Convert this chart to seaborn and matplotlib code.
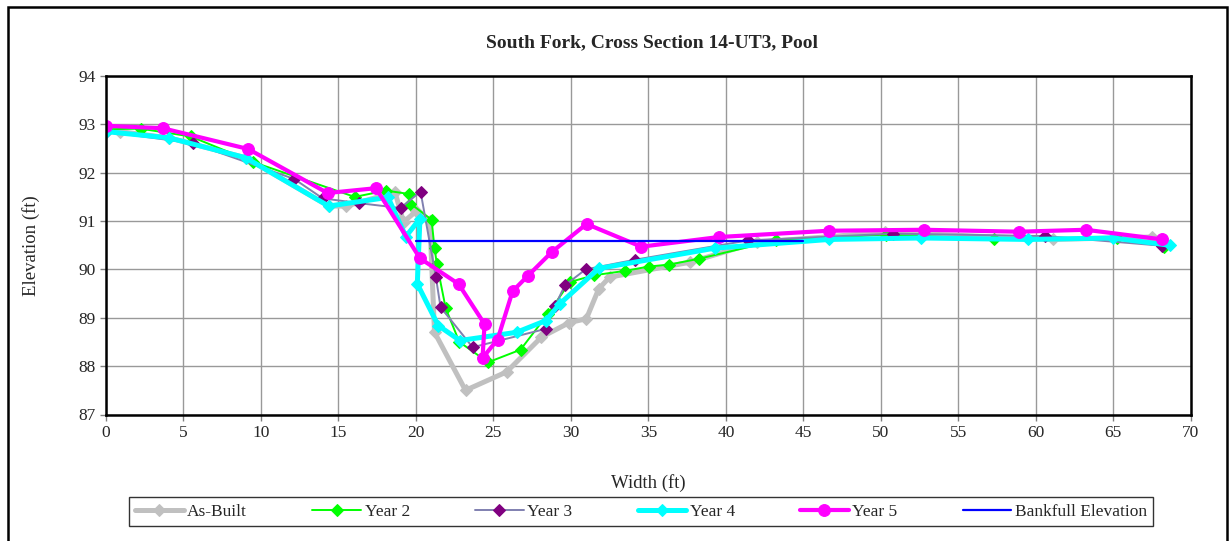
import matplotlib
matplotlib.use('Agg')
import matplotlib.pyplot as plt
from matplotlib.patches import Rectangle
import seaborn as sns

sns.set_style('white')
plt.rcParams['font.family'] = ['Liberation Serif', 'DejaVu Serif']

# data
asbuilt_x = [0.9, 4.08, 9.01, 14.37, 15.5, 18.65, 19.2, 20.0, 20.9, 21.2, 23.2, 25.85, 28.1,
             29.9, 31.0, 31.8, 32.5, 37.7, 42.0, 50.3, 61.1, 67.5]
asbuilt_y = [92.85, 92.72, 92.31, 91.31, 91.31, 91.6, 90.98, 91.2, 91.0, 88.7, 87.5, 87.88,
             88.6, 88.9, 88.98, 89.6, 89.84, 90.15, 90.56, 90.77, 90.62, 90.67]

year2_x = [0, 2.24, 5.46, 9.5, 16.05, 18.06, 19.57, 19.65, 21.01, 21.2, 21.35, 21.92, 22.8,
           24.66, 26.75, 28.5, 29.94, 31.5, 33.5, 35.03, 36.34, 38.26, 43.27, 50.32, 57.29,
           65.27, 68.3]
year2_y = [92.9, 92.91, 92.75, 92.22, 91.5, 91.63, 91.56, 91.36, 91.03, 90.44, 90.12, 89.2,
           88.5, 88.08, 88.34, 89.07, 89.74, 89.88, 89.97, 90.06, 90.1, 90.22, 90.6, 90.72,
           90.63, 90.65, 90.47]

year3_x = [0, 5.59, 12.15, 13.98, 16.34, 19.01, 20.3, 21.29, 21.59, 23.66, 28.37, 28.97,
           29.61, 30.95, 34.13, 41.44, 50.8, 60.58, 68.17]
year3_y = [92.85, 92.61, 91.87, 91.47, 91.37, 91.27, 91.61, 89.84, 89.22, 88.39, 88.77, 89.24,
           89.67, 90.0, 90.2, 90.6, 90.74, 90.69, 90.49]

year4_x = [0, 4.08, 9.01, 14.37, 18.2, 19.35, 20.26, 20.09, 21.44, 22.84, 26.5, 28.37, 29.29,
           31.8, 39.29, 46.66, 52.62, 59.5, 64.99, 68.65]
year4_y = [92.85, 92.72, 92.31, 91.31, 91.49, 90.68, 91.05, 89.7, 88.84, 88.53, 88.7, 88.94,
           89.29, 90.02, 90.44, 90.62, 90.65, 90.62, 90.65, 90.5]

year5_x = [0, 3.66, 9.18, 14.3, 17.42, 20.26, 22.75, 24.43, 24.3, 25.27, 26.24, 27.23, 28.77,
           31.01, 34.54, 39.55, 46.66, 52.79, 58.92, 63.23, 68.17]
year5_y = [92.97, 92.92, 92.49, 91.58, 91.68, 90.23, 89.7, 88.87, 88.17, 88.55, 89.55, 89.87,
           90.36, 90.94, 90.47, 90.67, 90.8, 90.82, 90.78, 90.82, 90.62]

bankfull_x = [20, 45]
bankfull_y = [90.58, 90.58]

x_ticks = list(range(0, 75, 5))
y_ticks = list(range(87, 95))

fig = plt.figure(figsize=(12.31, 5.41), dpi=100)
ax = fig.add_axes([106 / 1231, 1 - 414.5 / 541, (1190.7 - 106) / 1231, (414.5 - 76) / 541])

# series, drawn in the same order as the legend
series = [
    ('As-Built', asbuilt_x, asbuilt_y, dict(color='#C0C0C0', lw=3.6, marker='D', markersize=6,
                                            markerfacecolor='#C0C0C0', markeredgecolor='#C0C0C0')),
    ('Year 2', year2_x, year2_y, dict(color='#00FF00', lw=1.4, marker='D', markersize=6,
                                      markerfacecolor='#00FF00', markeredgecolor='#00FF00')),
    ('Year 3', year3_x, year3_y, dict(color='#8080B0', lw=1.4, marker='D', markersize=6,
                                      markerfacecolor='#800080', markeredgecolor='#800080')),
    ('Year 4', year4_x, year4_y, dict(color='#00FFFF', lw=3.6, marker='D', markersize=6,
                                      markerfacecolor='#00FFFF', markeredgecolor='#00FFFF')),
    ('Year 5', year5_x, year5_y, dict(color='#FF00FF', lw=3.0, marker='o', markersize=8.5,
                                      markerfacecolor='#FF00FF', markeredgecolor='#FF00FF')),
    ('Bankfull Elevation', bankfull_x, bankfull_y, dict(color='#0000FF', lw=1.6)),
]
for name, xs, ys, style in series:
    sns.lineplot(x=xs, y=ys, sort=False, estimator=None, label=name, ax=ax, **style)

handles, labels = ax.get_legend_handles_labels()
if ax.get_legend() is not None:
    ax.get_legend().remove()

ax.set_xlim(0, 70)
ax.set_ylim(87, 94)
ax.set_xticks(x_ticks)
ax.set_yticks(y_ticks)
ax.grid(True, color='#999999', lw=1)
ax.set_axisbelow(True)
for s in ax.spines.values():
    s.set_color('black')
    s.set_linewidth(1.8)
ax.tick_params(direction='out', length=4, width=1, color='#808080', labelsize=12.5,
               bottom=True, left=True)

ax.set_xlabel('Width (ft)', fontsize=13.5)
ax.set_ylabel('Elevation (ft)', fontsize=13.5)
ax.xaxis.set_label_coords(0.5, (414.5 - 474) / (414.5 - 76))
ax.yaxis.set_label_coords((40 - 106) / (1190.7 - 106), 0.5)

fig.text(652 / 1231, 1 - 43 / 541, 'South Fork, Cross Section 14-UT3, Pool',
         ha='center', va='center', fontsize=14, fontweight='bold')

fig.legend(handles, labels, loc='center', bbox_to_anchor=(641 / 1231, 1 - 511.5 / 541),
           ncol=6, frameon=True, fancybox=False, edgecolor='black', fontsize=12.5,
           handlelength=2.8, handletextpad=0.2, columnspacing=3.76, borderpad=0.35)

# outer chart border
fig.patches.append(Rectangle((8 / 1231, -0.02), (1227 - 8) / 1231, 1.02 - 7 / 541,
                             transform=fig.transFigure, fill=False, lw=1.8,
                             edgecolor='black', clip_on=False))

fig.savefig('out.png', dpi=100)
